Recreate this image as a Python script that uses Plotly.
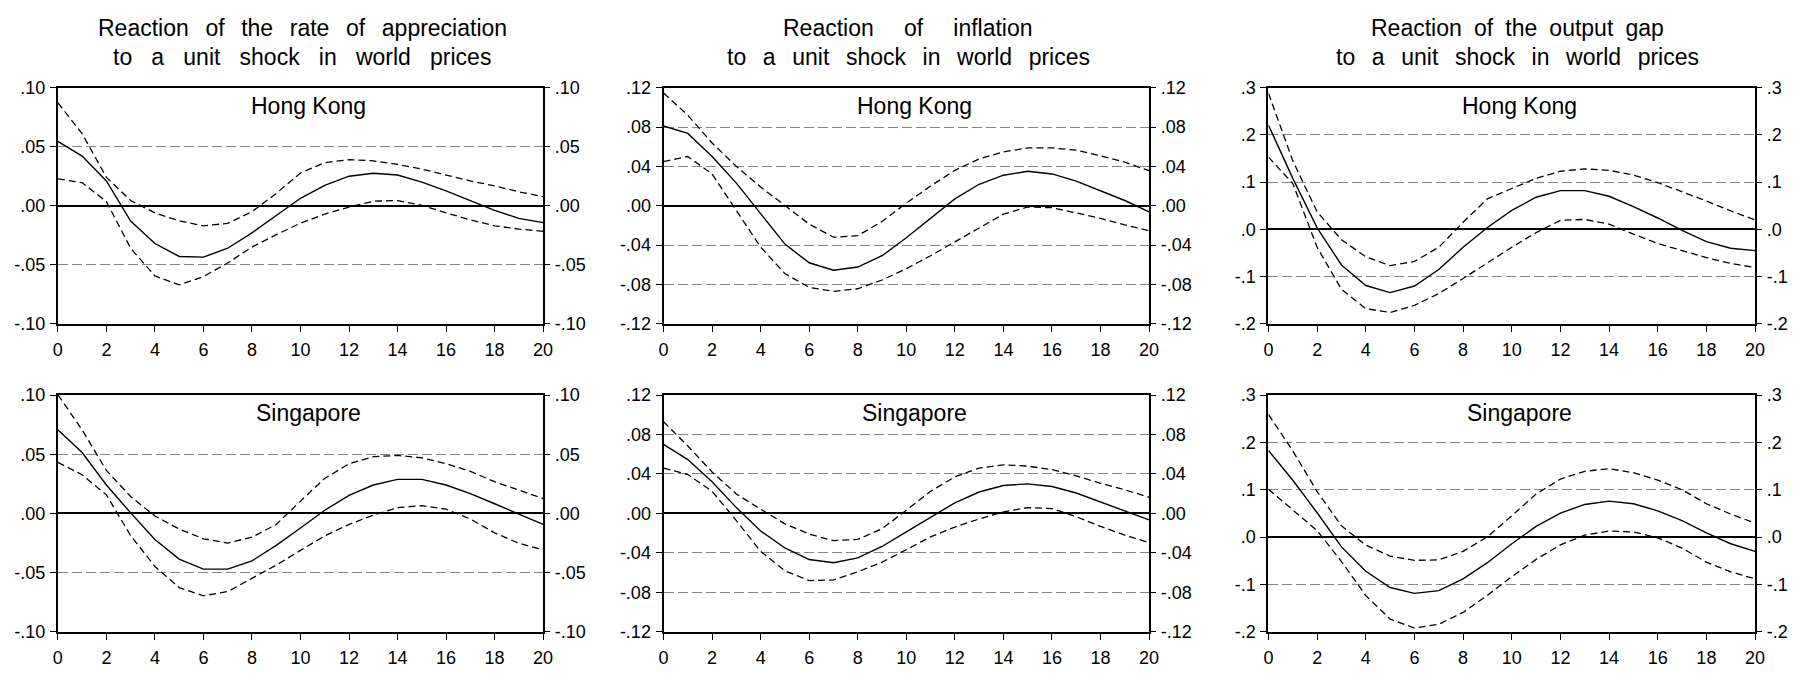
import plotly.graph_objects as go

# ---------------- data ----------------
horizon = list(range(21))

hk_app_mid = [0.0545, 0.042, 0.021, -0.013, -0.032, -0.043, -0.0435, -0.036, -0.023, -0.008, 0.0063,
              0.0173, 0.025, 0.0275, 0.026, 0.020, 0.0126, 0.0044, -0.004, -0.0107, -0.0143]
hk_app_up = [0.0872, 0.061, 0.024, 0.0044, -0.006, -0.0128, -0.017, -0.015, -0.005, 0.0104, 0.0277,
             0.0365, 0.039, 0.038, 0.035, 0.031, 0.026, 0.021, 0.0168, 0.0118, 0.0077]
hk_app_lo = [0.0228, 0.0195, 0.0035, -0.036, -0.0595, -0.067, -0.060, -0.0485, -0.035, -0.0245, -0.0148,
             -0.0071, -0.0011, 0.0038, 0.0044, 0.0003, -0.006, -0.012, -0.017, -0.0198, -0.0217]

hk_inf_mid = [0.081, 0.0735, 0.050, 0.023, -0.008, -0.039, -0.058, -0.0655, -0.0623, -0.0508, -0.0326,
              -0.0129, 0.0069, 0.0218, 0.031, 0.035, 0.0323, 0.025, 0.0152, 0.0053, -0.0063]
hk_inf_up = [0.1145, 0.092, 0.0637, 0.040, 0.019, 0.0, -0.0187, -0.032, -0.0305, -0.016, 0.0026,
             0.020, 0.036, 0.0475, 0.0547, 0.0587, 0.0587, 0.0564, 0.0508, 0.0442, 0.0356]
hk_inf_lo = [0.0448, 0.050, 0.0323, -0.005, -0.042, -0.069, -0.083, -0.087, -0.0844, -0.0755, -0.064,
             -0.0508, -0.037, -0.0228, -0.0086, -0.0013, -0.002, -0.0073, -0.0129, -0.0195, -0.0254]

hk_gap_mid = [0.2205, 0.108, 0.003, -0.0755, -0.119, -0.134, -0.12, -0.085, -0.038, 0.004, 0.040,
              0.068, 0.082, 0.082, 0.070, 0.048, 0.024, -0.002, -0.026, -0.040, -0.045]
hk_gap_up = [0.288, 0.145, 0.037, -0.022, -0.058, -0.077, -0.068, -0.038, 0.015, 0.0646, 0.0865,
             0.108, 0.123, 0.128, 0.125, 0.115, 0.099, 0.080, 0.060, 0.039, 0.020]
hk_gap_lo = [0.153, 0.097, -0.038, -0.127, -0.168, -0.176, -0.161, -0.136, -0.104, -0.071, -0.038,
             -0.007, 0.019, 0.021, 0.011, -0.010, -0.030, -0.045, -0.060, -0.072, -0.081]

sg_app_mid = [0.0706, 0.0514, 0.024, 0.0005, -0.022, -0.0385, -0.047, -0.047, -0.040, -0.027, -0.0123,
              0.0027, 0.0153, 0.024, 0.0288, 0.0288, 0.024, 0.0167, 0.0082, -0.0005, -0.0093]
sg_app_up = [0.1003, 0.0706, 0.0363, 0.0143, -0.0022, -0.0132, -0.0214, -0.025, -0.020, -0.0093, 0.0104,
             0.0296, 0.0419, 0.048, 0.049, 0.047, 0.042, 0.0356, 0.0268, 0.020, 0.0126]
sg_app_lo = [0.0431, 0.0327, 0.0157, -0.0187, -0.0448, -0.0626, -0.0695, -0.066, -0.0548, -0.0436, -0.0312,
             -0.0189, -0.0093, -0.0014, 0.0049, 0.0066, 0.0036, -0.0047, -0.0164, -0.0252, -0.0307]

sg_inf_mid = [0.070, 0.0546, 0.0322, 0.0059, -0.0178, -0.035, -0.0467, -0.050, -0.045, -0.0335, -0.0187,
              -0.0039, 0.0108, 0.0217, 0.0283, 0.030, 0.0273, 0.0207, 0.0118, 0.0026, -0.0066]
sg_inf_up = [0.093, 0.0684, 0.042, 0.0197, 0.0043, -0.0105, -0.021, -0.0276, -0.0263, -0.0155, 0.0033,
             0.0224, 0.0371, 0.046, 0.0493, 0.048, 0.0444, 0.0381, 0.0306, 0.024, 0.0164]
sg_inf_lo = [0.046, 0.0394, 0.0224, -0.0072, -0.0385, -0.0582, -0.068, -0.0674, -0.0592, -0.0493, -0.0368,
             -0.0237, -0.0138, -0.0056, 0.0016, 0.0059, 0.0049, -0.0033, -0.0131, -0.022, -0.0296]

sg_gap_mid = [0.183, 0.120, 0.0515, -0.0206, -0.072, -0.1064, -0.1187, -0.113, -0.088, -0.054, -0.014,
              0.0226, 0.0507, 0.069, 0.076, 0.0705, 0.0555, 0.035, 0.009, -0.014, -0.030]
sg_gap_up = [0.259, 0.182, 0.096, 0.024, -0.017, -0.040, -0.049, -0.048, -0.030, 0.0007, 0.045,
             0.091, 0.1226, 0.139, 0.1445, 0.136, 0.1205, 0.100, 0.0705, 0.0486, 0.0295]
sg_gap_lo = [0.101, 0.0583, 0.0137, -0.0515, -0.1235, -0.173, -0.192, -0.184, -0.159, -0.1226, -0.0836,
             -0.047, -0.0164, 0.0041, 0.013, 0.011, -0.0014, -0.0233, -0.0527, -0.0733, -0.088]

column_titles = [
    ("Reaction of the rate of appreciation", "to a unit shock in world prices"),
    ("Reaction of inflation", "to a unit shock in world prices"),
    ("Reaction of the output gap", "to a unit shock in world prices"),
]
row_labels = ["Hong Kong", "Singapore"]

x_tickvals = [0, 2, 4, 6, 8, 10, 12, 14, 16, 18, 20]
x_ticktext = ["0", "2", "4", "6", "8", "10", "12", "14", "16", "18", "20"]

app_tickvals = [-0.10, -0.05, 0.0, 0.05, 0.10]
app_ticktext = ["-.10", "-.05", ".00", ".05", ".10"]
inf_tickvals = [-0.12, -0.08, -0.04, 0.0, 0.04, 0.08, 0.12]
inf_ticktext = ["-.12", "-.08", "-.04", ".00", ".04", ".08", ".12"]
gap_tickvals = [-0.2, -0.1, 0.0, 0.1, 0.2, 0.3]
gap_ticktext = ["-.2", "-.1", ".0", ".1", ".2", ".3"]

panels = [
    (hk_app_mid, hk_app_up, hk_app_lo, app_tickvals, app_ticktext),
    (hk_inf_mid, hk_inf_up, hk_inf_lo, inf_tickvals, inf_ticktext),
    (hk_gap_mid, hk_gap_up, hk_gap_lo, gap_tickvals, gap_ticktext),
    (sg_app_mid, sg_app_up, sg_app_lo, app_tickvals, app_ticktext),
    (sg_inf_mid, sg_inf_up, sg_inf_lo, inf_tickvals, inf_ticktext),
    (sg_gap_mid, sg_gap_up, sg_gap_lo, gap_tickvals, gap_ticktext),
]

# ---------------- layout geometry (pixels) ----------------
W, H = 1818, 680
col_px = [(53.3, 542.6), (664.0, 1153.6), (1274.0, 1764.6)]
row_px = [(80.0, 323.3), (396.7, 640.7)]

FONT = "Liberation Sans, Arial, sans-serif"
tick_font = dict(family=FONT, size=18, color="black")

NB = "\u00a0"
title_gaps = [
    (NB + NB + "\u2006", NB * 3),
    (NB * 4 + "\u2009", NB + NB + "\u2006"),
    (NB + "\u2005", NB + NB + "\u2006"),
]
title_xshift = [2, 2, 6]

fig = go.Figure()
layout = dict(
    width=W, height=H,
    margin=dict(l=0, r=0, t=0, b=0),
    paper_bgcolor="white", plot_bgcolor="white",
    showlegend=False,
    annotations=[],
)

def px_x(p):
    return p / W

def px_y(p):
    return 1 - p / H

for k, (mid, up, lo, tv, tt) in enumerate(panels):
    r, c = divmod(k, 3)
    i = k + 1
    xa = "x" if i == 1 else f"x{i}"
    ya = "y" if i == 1 else f"y{i}"
    yr = f"y{i + 6}"
    xdom = [px_x(col_px[c][0]), px_x(col_px[c][1])]
    ydom = [px_y(row_px[r][1]), px_y(row_px[r][0])]
    yrange = [tv[0], tv[-1]]

    for series, dash, w in ((up, "7px,4px", 1.3), (lo, "7px,4px", 1.3), (mid, "solid", 1.4)):
        fig.add_trace(go.Scatter(x=horizon, y=series, mode="lines", xaxis=xa, yaxis=ya,
                                 line=dict(color="black", width=w, dash=dash),
                                 hoverinfo="skip"))
    # invisible trace so the right-hand axis is drawn
    fig.add_trace(go.Scatter(x=horizon, y=mid, mode="lines", xaxis=xa, yaxis=yr,
                             line=dict(color="rgba(0,0,0,0)", width=0), hoverinfo="skip"))

    layout["xaxis" if i == 1 else f"xaxis{i}"] = dict(
        domain=xdom, anchor=ya, range=[0, 20], tickvals=x_tickvals, ticktext=x_ticktext,
        ticks="outside", ticklen=6, tickwidth=1, tickcolor="black", tickfont=tick_font,
        ticklabelstandoff=3,
        showline=True, linewidth=2, linecolor="black", mirror=True,
        showgrid=False, zeroline=False, fixedrange=True,
    )
    layout["yaxis" if i == 1 else f"yaxis{i}"] = dict(
        domain=ydom, anchor=xa, range=yrange, tickvals=tv, ticktext=tt,
        ticks="outside", ticklen=6, tickwidth=1, tickcolor="black", tickfont=tick_font,
        ticklabelstandoff=1,
        showline=True, linewidth=2, linecolor="black", mirror=True,
        showgrid=True, gridcolor="#858585", gridwidth=1, griddash="10px,4px",
        zeroline=True, zerolinecolor="black", zerolinewidth=2, fixedrange=True,
    )
    layout[f"yaxis{i + 6}"] = dict(
        overlaying=ya, side="right", anchor=xa, range=yrange, tickvals=tv, ticktext=tt,
        ticks="outside", ticklen=6, tickwidth=1, tickcolor="black", tickfont=tick_font,
        ticklabelstandoff=1,
        showline=False, showgrid=False, zeroline=False, fixedrange=True,
    )

    # country label inside panel
    layout["annotations"].append(dict(
        text=row_labels[r], xref="paper", yref="paper",
        x=px_x((col_px[c][0] + col_px[c][1]) / 2 + 8), y=px_y(row_px[r][0] + 19),
        xanchor="center", yanchor="middle", showarrow=False,
        font=dict(family=FONT, size=23, color="black"),
    ))

# column titles
for c, (l1, l2) in enumerate(column_titles):
    cx = px_x((col_px[c][0] + col_px[c][1]) / 2 + title_xshift[c])
    for txt, ypx, gap in ((l1, 18.5, title_gaps[c][0]), (l2, 48.7, title_gaps[c][1])):
        spaced = gap.join(txt.split(" "))
        layout["annotations"].append(dict(
            text=spaced, xref="paper", yref="paper", x=cx, y=px_y(ypx),
            xanchor="center", yanchor="middle", showarrow=False,
            font=dict(family=FONT, size=23, color="black"),
        ))

fig.update_layout(**layout)
fig.write_html("out.html",
               config={"displayModeBar": False, "staticPlot": True},
               post_script="document.body.style.margin='0';document.body.style.overflow='hidden';")
